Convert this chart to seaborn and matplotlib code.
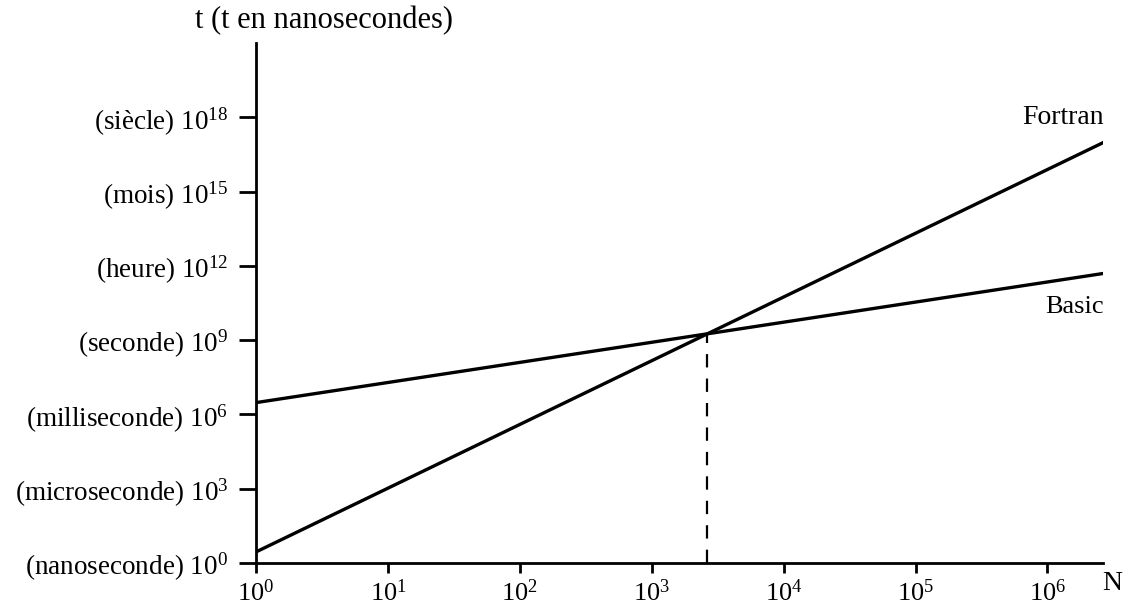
import numpy as np
import pandas as pd
import matplotlib
matplotlib.use("Agg")
import matplotlib.pyplot as plt
import seaborn as sns

# Execution time (ns) of the two programs versus problem size N
n_ends = [1.0, 2.7e6]
fortran_t = [2.8, 1.0e17]
basic_t = [3.0e6, 5.0e11]
crossing_n = 2630.0
crossing_t = 1.8e9

y_ticks = [1e0, 1e3, 1e6, 1e9, 1e12, 1e15, 1e18]
y_labels = [
    r"(nanoseconde) $\mathregular{10^{0}}$",
    r"(microseconde) $\mathregular{10^{3}}$",
    r"(milliseconde) $\mathregular{10^{6}}$",
    r"(seconde) $\mathregular{10^{9}}$",
    r"(heure) $\mathregular{10^{12}}$",
    r"(mois) $\mathregular{10^{15}}$",
    r"(siècle) $\mathregular{10^{18}}$",
]
x_ticks = [1e0, 1e1, 1e2, 1e3, 1e4, 1e5, 1e6]
x_labels = [r"$\mathregular{10^{%d}}$" % k for k in range(7)]

sns.set_style("ticks")
plt.rcParams["font.family"] = ["Liberation Serif", "DejaVu Serif"]
plt.rcParams["mathtext.fontset"] = "custom"
plt.rcParams["mathtext.rm"] = "Liberation Serif"
plt.rcParams["text.color"] = "black"

df = pd.DataFrame({
    "N": n_ends * 2,
    "t": fortran_t + basic_t,
    "langage": ["Fortran"] * 2 + ["Basic"] * 2,
})

fig = plt.figure(figsize=(11.26, 6.11), dpi=100)
ax = fig.add_axes([0.2274, 0.0786, 0.752, 0.851])

sns.lineplot(data=df, x="N", y="t", units="langage", estimator=None,
             color="black", linewidth=2.4, ax=ax, legend=False)
ax.vlines(crossing_n, 1.0, crossing_t, colors="black", linewidth=1.6,
          linestyles=(0, (6, 5)))

ax.set_xscale("log")
ax.set_yscale("log")
ax.set_xlim(1.0, 10.0 ** 6.42)
ax.set_ylim(1.0, 1e21)

ax.set_yticks(y_ticks)
ax.set_yticklabels(y_labels)
ax.set_xticks(x_ticks)
ax.set_xticklabels(x_labels)
ax.minorticks_off()
ax.tick_params(axis="y", length=12, width=2, pad=8, labelsize=19.5, colors="black")
ax.tick_params(axis="x", length=7, width=2, pad=5, labelsize=19, colors="black")

for side in ["top", "right"]:
    ax.spines[side].set_visible(False)
for side in ["left", "bottom"]:
    ax.spines[side].set_linewidth(2)
    ax.spines[side].set_color("black")

ax.set_xlabel("")
ax.set_ylabel("")
fig.text(0.173, 0.967, "t (t en nanosecondes)", fontsize=22, ha="left", va="center")
fig.text(0.988, 0.045, "N", fontsize=20, ha="center", va="center")

ax.text(n_ends[1], fortran_t[1] * 10.0 ** 1.0, "Fortran", fontsize=20,
        ha="right", va="center")
ax.text(n_ends[1], basic_t[1] / 10.0 ** 1.35, "Basic", fontsize=19,
        ha="right", va="center")

fig.savefig("out.png", dpi=100, facecolor="white")
